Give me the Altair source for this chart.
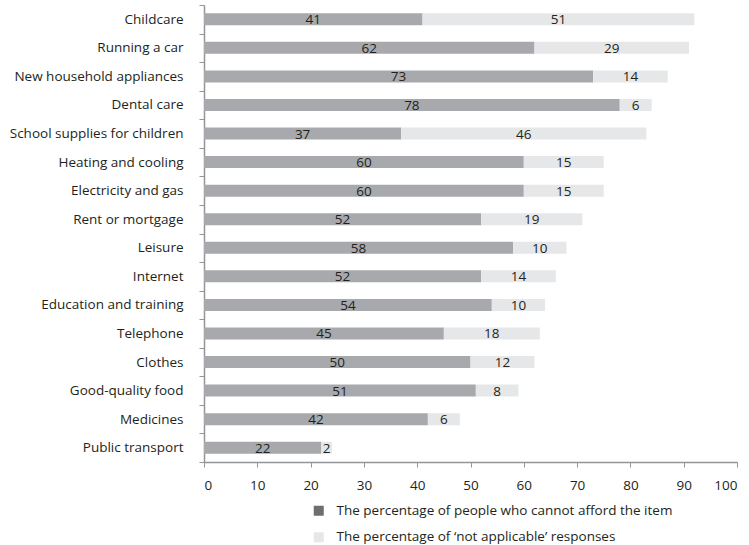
import altair as alt
import pandas as pd

categories = [
    "Childcare", "Running a car", "New household appliances", "Dental care",
    "School supplies for children", "Heating and cooling", "Electricity and gas",
    "Rent or mortgage", "Leisure", "Internet", "Education and training",
    "Telephone", "Clothes", "Good-quality food", "Medicines", "Public transport",
]
cannot_afford = [41, 62, 73, 78, 37, 60, 60, 52, 58, 52, 54, 45, 50, 51, 42, 22]
not_applicable = [51, 29, 14, 6, 46, 15, 15, 19, 10, 14, 10, 18, 12, 8, 6, 2]
series_labels = [
    "The percentage of people who cannot afford the item",
    "The percentage of \u2018not applicable\u2019 responses",
]
x_ticks = [0, 10, 20, 30, 40, 50, 60, 70, 80, 90, 100]

rows = []
for c, a, n in zip(categories, cannot_afford, not_applicable):
    rows.append({"category": c, "series": series_labels[0], "value": a, "ord": 0})
    rows.append({"category": c, "series": series_labels[1], "value": n, "ord": 1})
df = pd.DataFrame(rows)

FONT = "Open Sans"
FS = 13.5
TXT = "#231f20"
AX = "#939598"

base = alt.Chart(df).transform_stack(
    stack="value", groupby=["category"], as_=["x0", "x1"],
    sort=[alt.SortField("ord", order="ascending")],
).transform_calculate(mid="(datum.x0 + datum.x1) / 2")

y_enc = alt.Y(
    "category:N", sort=categories, title=None,
    scale=alt.Scale(paddingInner=0, paddingOuter=0),
    axis=alt.Axis(
        tickBand="extent", tickSize=5, labelPadding=16, domainColor=AX,
        tickColor=AX, domainWidth=1.5, tickWidth=1, labelFontSize=FS,
        labelFont=FONT, labelColor=TXT, labelLimit=300,
    ),
)
x_scale = alt.Scale(domain=[0, 100], nice=False)
x_axis = alt.Axis(
    values=x_ticks, grid=False, tickSize=5, labelPadding=11, domainColor=AX,
    tickColor=AX, domainWidth=1.5, tickWidth=1, labelFontSize=FS,
    labelFont=FONT, labelColor=TXT, title=None,
)

bars = base.mark_bar(size=12).encode(
    y=y_enc,
    x=alt.X("x0:Q", scale=x_scale, axis=x_axis),
    x2="x1:Q",
    color=alt.Color(
        "series:N",
        scale=alt.Scale(domain=series_labels, range=["#a7a9ac", "#e6e7e8"]),
        legend=None,
    ),
)

labels = base.mark_text(
    font=FONT, fontSize=FS, color=TXT, baseline="middle", dy=1
).encode(
    y=alt.Y("category:N", sort=categories),
    x=alt.X("mid:Q", scale=x_scale),
    text=alt.Text("value:Q"),
)

legend_layer = alt.Chart(df).mark_point(opacity=0).encode(
    y=alt.Y("category:N", sort=categories),
    x=alt.X("value:Q", scale=x_scale),
    fill=alt.Fill(
        "series:N",
        scale=alt.Scale(domain=series_labels, range=["#6d6e71", "#e6e7e8"]),
        legend=alt.Legend(
            title=None, orient="none", legendX=108, legendY=499,
            direction="vertical", symbolType="square", symbolSize=100,
            symbolOpacity=1, symbolStrokeWidth=0, labelFont=FONT,
            labelFontSize=FS, labelColor=TXT, labelOffset=11, rowPadding=11.5,
            labelLimit=500, padding=0,
        ),
    ),
)

chart = alt.layer(bars, labels, legend_layer).resolve_scale(
    color="independent", fill="independent"
).properties(
    width=533, height=457,
    padding={"left": 204, "top": 5, "right": 12, "bottom": 83},
    autosize=alt.AutoSizeParams(type="none"),
    background="white",
).configure_view(stroke=None)

chart.save("out.html", embed_options={"renderer": "svg", "actions": False})
